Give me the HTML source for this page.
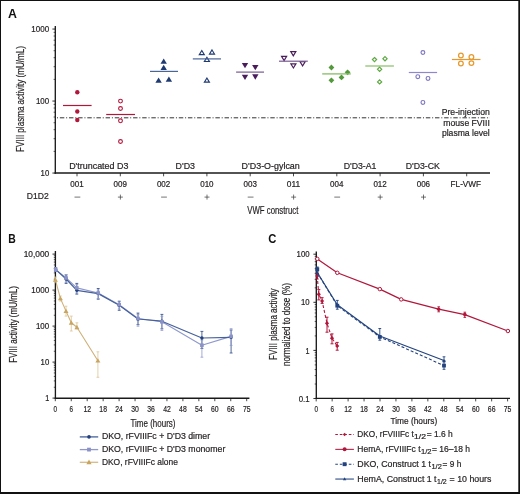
<!DOCTYPE html>
<html><head><meta charset="utf-8"><style>
html,body{margin:0;padding:0;background:#fff;}
body{width:520px;height:494px;overflow:hidden;font-family:"Liberation Sans", sans-serif;}
svg{display:block;will-change:transform;}
</style></head><body>
<svg width="520" height="494" viewBox="0 0 520 494" font-family='"Liberation Sans", sans-serif'><rect x="0.5" y="0.5" width="518.5" height="492" fill="none" stroke="#111" stroke-width="1"/>
<line x1="0" y1="493" x2="520" y2="493" stroke="#111" stroke-width="2"/>
<line x1="519.3" y1="0" x2="519.3" y2="494" stroke="#111" stroke-width="1.4"/>
<text x="7.90" y="17.80" font-size="12" textLength="8.93" lengthAdjust="spacingAndGlyphs" font-weight="bold" fill="#111">A</text>
<line x1="55.30" y1="26.00" x2="55.30" y2="173.70" stroke="#1a1a1a" stroke-width="1.35"/>
<line x1="54.60" y1="173.00" x2="490.00" y2="173.00" stroke="#1a1a1a" stroke-width="1.35"/>
<line x1="52.40" y1="29.05" x2="55.30" y2="29.05" stroke="#1a1a1a" stroke-width="0.9"/>
<text x="31.32" y="32.15" font-size="8.6" textLength="17.88" lengthAdjust="spacingAndGlyphs" fill="#231f20" stroke="#231f20" stroke-width="0.2">1000</text>
<line x1="52.40" y1="101.05" x2="55.30" y2="101.05" stroke="#1a1a1a" stroke-width="0.9"/>
<text x="35.94" y="104.15" font-size="8.6" textLength="13.25" lengthAdjust="spacingAndGlyphs" fill="#231f20" stroke="#231f20" stroke-width="0.2">100</text>
<line x1="52.40" y1="173.05" x2="55.30" y2="173.05" stroke="#1a1a1a" stroke-width="0.9"/>
<text x="40.56" y="176.15" font-size="8.6" textLength="8.66" lengthAdjust="spacingAndGlyphs" fill="#231f20" stroke="#231f20" stroke-width="0.2">10</text>
<line x1="53.60" y1="151.38" x2="55.30" y2="151.38" stroke="#1a1a1a" stroke-width="0.7"/>
<line x1="53.60" y1="138.70" x2="55.30" y2="138.70" stroke="#1a1a1a" stroke-width="0.7"/>
<line x1="53.60" y1="129.70" x2="55.30" y2="129.70" stroke="#1a1a1a" stroke-width="0.7"/>
<line x1="53.60" y1="122.72" x2="55.30" y2="122.72" stroke="#1a1a1a" stroke-width="0.7"/>
<line x1="53.60" y1="117.02" x2="55.30" y2="117.02" stroke="#1a1a1a" stroke-width="0.7"/>
<line x1="53.60" y1="112.20" x2="55.30" y2="112.20" stroke="#1a1a1a" stroke-width="0.7"/>
<line x1="53.60" y1="108.03" x2="55.30" y2="108.03" stroke="#1a1a1a" stroke-width="0.7"/>
<line x1="53.60" y1="104.34" x2="55.30" y2="104.34" stroke="#1a1a1a" stroke-width="0.7"/>
<line x1="53.60" y1="79.38" x2="55.30" y2="79.38" stroke="#1a1a1a" stroke-width="0.7"/>
<line x1="53.60" y1="66.70" x2="55.30" y2="66.70" stroke="#1a1a1a" stroke-width="0.7"/>
<line x1="53.60" y1="57.70" x2="55.30" y2="57.70" stroke="#1a1a1a" stroke-width="0.7"/>
<line x1="53.60" y1="50.72" x2="55.30" y2="50.72" stroke="#1a1a1a" stroke-width="0.7"/>
<line x1="53.60" y1="45.02" x2="55.30" y2="45.02" stroke="#1a1a1a" stroke-width="0.7"/>
<line x1="53.60" y1="40.20" x2="55.30" y2="40.20" stroke="#1a1a1a" stroke-width="0.7"/>
<line x1="53.60" y1="36.03" x2="55.30" y2="36.03" stroke="#1a1a1a" stroke-width="0.7"/>
<line x1="53.60" y1="32.34" x2="55.30" y2="32.34" stroke="#1a1a1a" stroke-width="0.7"/>
<line x1="77.00" y1="173.00" x2="77.00" y2="176.30" stroke="#1a1a1a" stroke-width="0.8"/>
<line x1="120.30" y1="173.00" x2="120.30" y2="176.30" stroke="#1a1a1a" stroke-width="0.8"/>
<line x1="163.60" y1="173.00" x2="163.60" y2="176.30" stroke="#1a1a1a" stroke-width="0.8"/>
<line x1="206.90" y1="173.00" x2="206.90" y2="176.30" stroke="#1a1a1a" stroke-width="0.8"/>
<line x1="250.20" y1="173.00" x2="250.20" y2="176.30" stroke="#1a1a1a" stroke-width="0.8"/>
<line x1="293.50" y1="173.00" x2="293.50" y2="176.30" stroke="#1a1a1a" stroke-width="0.8"/>
<line x1="336.80" y1="173.00" x2="336.80" y2="176.30" stroke="#1a1a1a" stroke-width="0.8"/>
<line x1="380.10" y1="173.00" x2="380.10" y2="176.30" stroke="#1a1a1a" stroke-width="0.8"/>
<line x1="423.40" y1="173.00" x2="423.40" y2="176.30" stroke="#1a1a1a" stroke-width="0.8"/>
<line x1="466.70" y1="173.00" x2="466.70" y2="176.30" stroke="#1a1a1a" stroke-width="0.8"/>
<text x="70.30" y="186.90" font-size="8.6" textLength="13.39" lengthAdjust="spacingAndGlyphs" fill="#231f20" stroke="#231f20" stroke-width="0.2">001</text>
<text x="113.60" y="186.90" font-size="8.6" textLength="13.39" lengthAdjust="spacingAndGlyphs" fill="#231f20" stroke="#231f20" stroke-width="0.2">009</text>
<text x="156.90" y="186.90" font-size="8.6" textLength="13.39" lengthAdjust="spacingAndGlyphs" fill="#231f20" stroke="#231f20" stroke-width="0.2">002</text>
<text x="200.20" y="186.90" font-size="8.6" textLength="13.39" lengthAdjust="spacingAndGlyphs" fill="#231f20" stroke="#231f20" stroke-width="0.2">010</text>
<text x="243.50" y="186.90" font-size="8.6" textLength="13.39" lengthAdjust="spacingAndGlyphs" fill="#231f20" stroke="#231f20" stroke-width="0.2">003</text>
<text x="286.80" y="186.90" font-size="8.6" textLength="13.39" lengthAdjust="spacingAndGlyphs" fill="#231f20" stroke="#231f20" stroke-width="0.2">011</text>
<text x="330.10" y="186.90" font-size="8.6" textLength="13.39" lengthAdjust="spacingAndGlyphs" fill="#231f20" stroke="#231f20" stroke-width="0.2">004</text>
<text x="373.40" y="186.90" font-size="8.6" textLength="13.39" lengthAdjust="spacingAndGlyphs" fill="#231f20" stroke="#231f20" stroke-width="0.2">012</text>
<text x="416.70" y="186.90" font-size="8.6" textLength="13.39" lengthAdjust="spacingAndGlyphs" fill="#231f20" stroke="#231f20" stroke-width="0.2">006</text>
<text x="450.60" y="186.90" font-size="8.6" textLength="30.41" lengthAdjust="spacingAndGlyphs" fill="#231f20" stroke="#231f20" stroke-width="0.2">FL-VWF</text>
<line x1="74.50" y1="197.10" x2="80.30" y2="197.10" stroke="#3a3a3a" stroke-width="0.7"/>
<line x1="117.90" y1="197.10" x2="122.90" y2="197.10" stroke="#3a3a3a" stroke-width="0.7"/>
<line x1="120.40" y1="194.60" x2="120.40" y2="199.60" stroke="#3a3a3a" stroke-width="0.7"/>
<line x1="161.10" y1="197.10" x2="166.90" y2="197.10" stroke="#3a3a3a" stroke-width="0.7"/>
<line x1="204.50" y1="197.10" x2="209.50" y2="197.10" stroke="#3a3a3a" stroke-width="0.7"/>
<line x1="207.00" y1="194.60" x2="207.00" y2="199.60" stroke="#3a3a3a" stroke-width="0.7"/>
<line x1="247.70" y1="197.10" x2="253.50" y2="197.10" stroke="#3a3a3a" stroke-width="0.7"/>
<line x1="291.10" y1="197.10" x2="296.10" y2="197.10" stroke="#3a3a3a" stroke-width="0.7"/>
<line x1="293.60" y1="194.60" x2="293.60" y2="199.60" stroke="#3a3a3a" stroke-width="0.7"/>
<line x1="334.30" y1="197.10" x2="340.10" y2="197.10" stroke="#3a3a3a" stroke-width="0.7"/>
<line x1="377.70" y1="197.10" x2="382.70" y2="197.10" stroke="#3a3a3a" stroke-width="0.7"/>
<line x1="380.20" y1="194.60" x2="380.20" y2="199.60" stroke="#3a3a3a" stroke-width="0.7"/>
<line x1="421.00" y1="197.10" x2="426.00" y2="197.10" stroke="#3a3a3a" stroke-width="0.7"/>
<line x1="423.50" y1="194.60" x2="423.50" y2="199.60" stroke="#3a3a3a" stroke-width="0.7"/>
<text x="26.80" y="199.40" font-size="8.6" textLength="21.91" lengthAdjust="spacingAndGlyphs" fill="#231f20" stroke="#231f20" stroke-width="0.2">D1D2</text>
<text x="247.30" y="213.80" font-size="10.6" textLength="51.01" lengthAdjust="spacingAndGlyphs" fill="#231f20" stroke="#231f20" stroke-width="0.2">VWF construct</text>
<text x="69.20" y="169.20" font-size="8.7" textLength="59.19" lengthAdjust="spacingAndGlyphs" fill="#231f20" stroke="#231f20" stroke-width="0.2">D'truncated D3</text>
<text x="175.60" y="169.20" font-size="8.7" textLength="19.41" lengthAdjust="spacingAndGlyphs" fill="#231f20" stroke="#231f20" stroke-width="0.2">D'D3</text>
<text x="241.60" y="169.20" font-size="8.7" textLength="58.21" lengthAdjust="spacingAndGlyphs" fill="#231f20" stroke="#231f20" stroke-width="0.2">D'D3-O-gylcan</text>
<text x="343.70" y="169.20" font-size="8.7" textLength="32.78" lengthAdjust="spacingAndGlyphs" fill="#231f20" stroke="#231f20" stroke-width="0.2">D'D3-A1</text>
<text x="405.70" y="169.20" font-size="8.7" textLength="34.19" lengthAdjust="spacingAndGlyphs" fill="#231f20" stroke="#231f20" stroke-width="0.2">D'D3-CK</text>
<text transform="translate(23.80,151.90) rotate(-90)" x="0" y="0" font-size="10.6" textLength="105.78" lengthAdjust="spacingAndGlyphs" fill="#231f20" stroke="#231f20" stroke-width="0.2">FVIII plasma activity (mU/mL)</text>
<line x1="57.00" y1="117.80" x2="490.00" y2="117.80" stroke="#333" stroke-width="1" stroke-dasharray="1 1.85 4.45 1.85"/>
<text x="441.70" y="115.20" font-size="8.7" textLength="48.09" lengthAdjust="spacingAndGlyphs" fill="#231f20" stroke="#231f20" stroke-width="0.2">Pre-injection</text>
<text x="443.30" y="125.70" font-size="8.7" textLength="46.51" lengthAdjust="spacingAndGlyphs" fill="#231f20" stroke="#231f20" stroke-width="0.2">mouse FVIII</text>
<text x="441.90" y="136.20" font-size="8.7" textLength="47.89" lengthAdjust="spacingAndGlyphs" fill="#231f20" stroke="#231f20" stroke-width="0.2">plasma level</text>
<circle cx="77.30" cy="92.20" r="2.2" fill="#b1173b" stroke="none" stroke-width="1"/>
<circle cx="77.30" cy="111.50" r="2.2" fill="#b1173b" stroke="none" stroke-width="1"/>
<circle cx="77.30" cy="120.00" r="2.2" fill="#b1173b" stroke="none" stroke-width="1"/>
<line x1="63.00" y1="105.50" x2="91.60" y2="105.50" stroke="#b1173b" stroke-width="1.2"/>
<circle cx="120.50" cy="101.10" r="1.9" fill="#fff" stroke="#b1173b" stroke-width="1.1"/>
<circle cx="120.50" cy="108.50" r="1.9" fill="#fff" stroke="#b1173b" stroke-width="1.1"/>
<circle cx="120.50" cy="120.80" r="1.9" fill="#fff" stroke="#b1173b" stroke-width="1.1"/>
<circle cx="120.50" cy="141.50" r="1.9" fill="#fff" stroke="#b1173b" stroke-width="1.1"/>
<line x1="106.20" y1="114.50" x2="135.00" y2="114.50" stroke="#b1173b" stroke-width="1.2"/>
<polygon points="163.70,58.60 166.90,63.80 160.50,63.80" fill="#1f3a72" stroke="none" stroke-width="1" stroke-linejoin="miter"/>
<polygon points="163.70,64.80 166.90,70.00 160.50,70.00" fill="#1f3a72" stroke="none" stroke-width="1" stroke-linejoin="miter"/>
<polygon points="158.60,77.50 161.80,82.70 155.40,82.70" fill="#1f3a72" stroke="none" stroke-width="1" stroke-linejoin="miter"/>
<polygon points="168.90,76.50 172.10,81.70 165.70,81.70" fill="#1f3a72" stroke="none" stroke-width="1" stroke-linejoin="miter"/>
<line x1="150.00" y1="71.40" x2="178.00" y2="71.40" stroke="#4a6598" stroke-width="1.2"/>
<polygon points="201.80,50.55 204.30,54.65 199.30,54.65" fill="#fff" stroke="#1f3a72" stroke-width="1.15" stroke-linejoin="miter"/>
<polygon points="212.00,49.95 214.50,54.05 209.50,54.05" fill="#fff" stroke="#1f3a72" stroke-width="1.15" stroke-linejoin="miter"/>
<polygon points="206.90,57.35 209.40,61.45 204.40,61.45" fill="#fff" stroke="#1f3a72" stroke-width="1.15" stroke-linejoin="miter"/>
<polygon points="206.90,78.05 209.40,82.15 204.40,82.15" fill="#fff" stroke="#1f3a72" stroke-width="1.15" stroke-linejoin="miter"/>
<line x1="192.80" y1="58.90" x2="221.00" y2="58.90" stroke="#4a6598" stroke-width="1.2"/>
<polygon points="241.80,63.05 248.20,63.05 245.00,68.35" fill="#4a1c5c" stroke="none" stroke-width="1" stroke-linejoin="miter"/>
<polygon points="252.10,65.05 258.50,65.05 255.30,70.35" fill="#4a1c5c" stroke="none" stroke-width="1" stroke-linejoin="miter"/>
<polygon points="241.80,74.75 248.20,74.75 245.00,80.05" fill="#4a1c5c" stroke="none" stroke-width="1" stroke-linejoin="miter"/>
<polygon points="252.10,74.35 258.50,74.35 255.30,79.65" fill="#4a1c5c" stroke="none" stroke-width="1" stroke-linejoin="miter"/>
<line x1="236.10" y1="72.10" x2="264.00" y2="72.10" stroke="#765890" stroke-width="1.2"/>
<polygon points="281.55,56.40 286.65,56.40 284.10,60.60" fill="#fff" stroke="#4a1c5c" stroke-width="1.15" stroke-linejoin="miter"/>
<polygon points="290.75,51.60 295.85,51.60 293.30,55.80" fill="#fff" stroke="#4a1c5c" stroke-width="1.15" stroke-linejoin="miter"/>
<polygon points="290.85,63.80 295.95,63.80 293.40,68.00" fill="#fff" stroke="#4a1c5c" stroke-width="1.15" stroke-linejoin="miter"/>
<polygon points="300.05,61.70 305.15,61.70 302.60,65.90" fill="#fff" stroke="#4a1c5c" stroke-width="1.15" stroke-linejoin="miter"/>
<line x1="279.00" y1="61.20" x2="307.80" y2="61.20" stroke="#765890" stroke-width="1.2"/>
<polygon points="331.40,64.60 334.30,67.50 331.40,70.40 328.50,67.50" fill="#52993a" stroke="none" stroke-width="1"/>
<polygon points="347.60,69.40 350.50,72.30 347.60,75.20 344.70,72.30" fill="#52993a" stroke="none" stroke-width="1"/>
<polygon points="341.50,74.50 344.40,77.40 341.50,80.30 338.60,77.40" fill="#52993a" stroke="none" stroke-width="1"/>
<polygon points="331.40,77.40 334.30,80.30 331.40,83.20 328.50,80.30" fill="#52993a" stroke="none" stroke-width="1"/>
<line x1="322.20" y1="73.90" x2="350.80" y2="73.90" stroke="#86bd66" stroke-width="1.3"/>
<polygon points="374.50,57.50 376.60,59.60 374.50,61.70 372.40,59.60" fill="#fff" stroke="#5ea843" stroke-width="1.2"/>
<polygon points="385.00,56.60 387.10,58.70 385.00,60.80 382.90,58.70" fill="#fff" stroke="#5ea843" stroke-width="1.2"/>
<polygon points="379.60,67.20 381.70,69.30 379.60,71.40 377.50,69.30" fill="#fff" stroke="#5ea843" stroke-width="1.2"/>
<polygon points="379.60,79.80 381.70,81.90 379.60,84.00 377.50,81.90" fill="#fff" stroke="#5ea843" stroke-width="1.2"/>
<line x1="365.30" y1="66.00" x2="393.90" y2="66.00" stroke="#86bd66" stroke-width="1.2"/>
<circle cx="422.90" cy="52.50" r="1.9" fill="#fff" stroke="#7d76c2" stroke-width="1.15"/>
<circle cx="417.80" cy="76.70" r="1.9" fill="#fff" stroke="#7d76c2" stroke-width="1.15"/>
<circle cx="428.00" cy="78.40" r="1.9" fill="#fff" stroke="#7d76c2" stroke-width="1.15"/>
<circle cx="422.90" cy="102.40" r="1.9" fill="#fff" stroke="#7d76c2" stroke-width="1.15"/>
<line x1="408.80" y1="72.50" x2="437.10" y2="72.50" stroke="#8e87cb" stroke-width="1.2"/>
<circle cx="460.90" cy="55.40" r="2.35" fill="#fff" stroke="#e69a2e" stroke-width="1.25"/>
<circle cx="471.40" cy="56.90" r="2.35" fill="#fff" stroke="#e69a2e" stroke-width="1.25"/>
<circle cx="460.90" cy="63.50" r="2.35" fill="#fff" stroke="#e69a2e" stroke-width="1.25"/>
<circle cx="471.40" cy="63.10" r="2.35" fill="#fff" stroke="#e69a2e" stroke-width="1.25"/>
<line x1="451.90" y1="59.50" x2="480.50" y2="59.50" stroke="#e69a2e" stroke-width="1.2"/>
<text x="8.30" y="243.40" font-size="12" textLength="7.52" lengthAdjust="spacingAndGlyphs" font-weight="bold" fill="#111">B</text>
<line x1="55.40" y1="251.00" x2="55.40" y2="398.90" stroke="#1a1a1a" stroke-width="1.35"/>
<line x1="54.70" y1="398.20" x2="249.40" y2="398.20" stroke="#1a1a1a" stroke-width="1.35"/>
<line x1="52.50" y1="254.10" x2="55.40" y2="254.10" stroke="#1a1a1a" stroke-width="0.9"/>
<text x="23.70" y="257.20" font-size="8.6" textLength="25.49" lengthAdjust="spacingAndGlyphs" fill="#231f20" stroke="#231f20" stroke-width="0.2">10,000</text>
<line x1="52.50" y1="290.10" x2="55.40" y2="290.10" stroke="#1a1a1a" stroke-width="0.9"/>
<text x="31.32" y="293.20" font-size="8.6" textLength="17.88" lengthAdjust="spacingAndGlyphs" fill="#231f20" stroke="#231f20" stroke-width="0.2">1000</text>
<line x1="52.50" y1="326.10" x2="55.40" y2="326.10" stroke="#1a1a1a" stroke-width="0.9"/>
<text x="35.94" y="329.20" font-size="8.6" textLength="13.25" lengthAdjust="spacingAndGlyphs" fill="#231f20" stroke="#231f20" stroke-width="0.2">100</text>
<line x1="52.50" y1="362.10" x2="55.40" y2="362.10" stroke="#1a1a1a" stroke-width="0.9"/>
<text x="40.56" y="365.20" font-size="8.6" textLength="8.66" lengthAdjust="spacingAndGlyphs" fill="#231f20" stroke="#231f20" stroke-width="0.2">10</text>
<line x1="52.50" y1="398.10" x2="55.40" y2="398.10" stroke="#1a1a1a" stroke-width="0.9"/>
<text x="45.18" y="401.20" font-size="8.6" textLength="4.03" lengthAdjust="spacingAndGlyphs" fill="#231f20" stroke="#231f20" stroke-width="0.2">1</text>
<line x1="53.80" y1="387.26" x2="55.40" y2="387.26" stroke="#1a1a1a" stroke-width="0.7"/>
<line x1="53.80" y1="380.92" x2="55.40" y2="380.92" stroke="#1a1a1a" stroke-width="0.7"/>
<line x1="53.80" y1="376.43" x2="55.40" y2="376.43" stroke="#1a1a1a" stroke-width="0.7"/>
<line x1="53.80" y1="372.94" x2="55.40" y2="372.94" stroke="#1a1a1a" stroke-width="0.7"/>
<line x1="53.80" y1="370.09" x2="55.40" y2="370.09" stroke="#1a1a1a" stroke-width="0.7"/>
<line x1="53.80" y1="367.68" x2="55.40" y2="367.68" stroke="#1a1a1a" stroke-width="0.7"/>
<line x1="53.80" y1="365.59" x2="55.40" y2="365.59" stroke="#1a1a1a" stroke-width="0.7"/>
<line x1="53.80" y1="363.75" x2="55.40" y2="363.75" stroke="#1a1a1a" stroke-width="0.7"/>
<line x1="53.80" y1="351.26" x2="55.40" y2="351.26" stroke="#1a1a1a" stroke-width="0.7"/>
<line x1="53.80" y1="344.92" x2="55.40" y2="344.92" stroke="#1a1a1a" stroke-width="0.7"/>
<line x1="53.80" y1="340.43" x2="55.40" y2="340.43" stroke="#1a1a1a" stroke-width="0.7"/>
<line x1="53.80" y1="336.94" x2="55.40" y2="336.94" stroke="#1a1a1a" stroke-width="0.7"/>
<line x1="53.80" y1="334.09" x2="55.40" y2="334.09" stroke="#1a1a1a" stroke-width="0.7"/>
<line x1="53.80" y1="331.68" x2="55.40" y2="331.68" stroke="#1a1a1a" stroke-width="0.7"/>
<line x1="53.80" y1="329.59" x2="55.40" y2="329.59" stroke="#1a1a1a" stroke-width="0.7"/>
<line x1="53.80" y1="327.75" x2="55.40" y2="327.75" stroke="#1a1a1a" stroke-width="0.7"/>
<line x1="53.80" y1="315.26" x2="55.40" y2="315.26" stroke="#1a1a1a" stroke-width="0.7"/>
<line x1="53.80" y1="308.92" x2="55.40" y2="308.92" stroke="#1a1a1a" stroke-width="0.7"/>
<line x1="53.80" y1="304.43" x2="55.40" y2="304.43" stroke="#1a1a1a" stroke-width="0.7"/>
<line x1="53.80" y1="300.94" x2="55.40" y2="300.94" stroke="#1a1a1a" stroke-width="0.7"/>
<line x1="53.80" y1="298.09" x2="55.40" y2="298.09" stroke="#1a1a1a" stroke-width="0.7"/>
<line x1="53.80" y1="295.68" x2="55.40" y2="295.68" stroke="#1a1a1a" stroke-width="0.7"/>
<line x1="53.80" y1="293.59" x2="55.40" y2="293.59" stroke="#1a1a1a" stroke-width="0.7"/>
<line x1="53.80" y1="291.75" x2="55.40" y2="291.75" stroke="#1a1a1a" stroke-width="0.7"/>
<line x1="53.80" y1="279.26" x2="55.40" y2="279.26" stroke="#1a1a1a" stroke-width="0.7"/>
<line x1="53.80" y1="272.92" x2="55.40" y2="272.92" stroke="#1a1a1a" stroke-width="0.7"/>
<line x1="53.80" y1="268.43" x2="55.40" y2="268.43" stroke="#1a1a1a" stroke-width="0.7"/>
<line x1="53.80" y1="264.94" x2="55.40" y2="264.94" stroke="#1a1a1a" stroke-width="0.7"/>
<line x1="53.80" y1="262.09" x2="55.40" y2="262.09" stroke="#1a1a1a" stroke-width="0.7"/>
<line x1="53.80" y1="259.68" x2="55.40" y2="259.68" stroke="#1a1a1a" stroke-width="0.7"/>
<line x1="53.80" y1="257.59" x2="55.40" y2="257.59" stroke="#1a1a1a" stroke-width="0.7"/>
<line x1="53.80" y1="255.75" x2="55.40" y2="255.75" stroke="#1a1a1a" stroke-width="0.7"/>
<line x1="55.30" y1="398.20" x2="55.30" y2="401.20" stroke="#1a1a1a" stroke-width="0.8"/>
<text x="53.55" y="412.20" font-size="8.6" textLength="3.51" lengthAdjust="spacingAndGlyphs" fill="#231f20" stroke="#231f20" stroke-width="0.2">0</text>
<line x1="71.25" y1="398.20" x2="71.25" y2="401.20" stroke="#1a1a1a" stroke-width="0.8"/>
<text x="69.50" y="412.20" font-size="8.6" textLength="3.51" lengthAdjust="spacingAndGlyphs" fill="#231f20" stroke="#231f20" stroke-width="0.2">6</text>
<line x1="87.20" y1="398.20" x2="87.20" y2="401.20" stroke="#1a1a1a" stroke-width="0.8"/>
<text x="83.40" y="412.20" font-size="8.6" textLength="7.62" lengthAdjust="spacingAndGlyphs" fill="#231f20" stroke="#231f20" stroke-width="0.2">12</text>
<line x1="103.15" y1="398.20" x2="103.15" y2="401.20" stroke="#1a1a1a" stroke-width="0.8"/>
<text x="99.35" y="412.20" font-size="8.6" textLength="7.62" lengthAdjust="spacingAndGlyphs" fill="#231f20" stroke="#231f20" stroke-width="0.2">18</text>
<line x1="119.10" y1="398.20" x2="119.10" y2="401.20" stroke="#1a1a1a" stroke-width="0.8"/>
<text x="115.30" y="412.20" font-size="8.6" textLength="7.62" lengthAdjust="spacingAndGlyphs" fill="#231f20" stroke="#231f20" stroke-width="0.2">24</text>
<line x1="135.05" y1="398.20" x2="135.05" y2="401.20" stroke="#1a1a1a" stroke-width="0.8"/>
<text x="131.25" y="412.20" font-size="8.6" textLength="7.62" lengthAdjust="spacingAndGlyphs" fill="#231f20" stroke="#231f20" stroke-width="0.2">30</text>
<line x1="151.00" y1="398.20" x2="151.00" y2="401.20" stroke="#1a1a1a" stroke-width="0.8"/>
<text x="147.20" y="412.20" font-size="8.6" textLength="7.62" lengthAdjust="spacingAndGlyphs" fill="#231f20" stroke="#231f20" stroke-width="0.2">36</text>
<line x1="166.95" y1="398.20" x2="166.95" y2="401.20" stroke="#1a1a1a" stroke-width="0.8"/>
<text x="163.15" y="412.20" font-size="8.6" textLength="7.62" lengthAdjust="spacingAndGlyphs" fill="#231f20" stroke="#231f20" stroke-width="0.2">42</text>
<line x1="182.90" y1="398.20" x2="182.90" y2="401.20" stroke="#1a1a1a" stroke-width="0.8"/>
<text x="179.10" y="412.20" font-size="8.6" textLength="7.62" lengthAdjust="spacingAndGlyphs" fill="#231f20" stroke="#231f20" stroke-width="0.2">48</text>
<line x1="198.85" y1="398.20" x2="198.85" y2="401.20" stroke="#1a1a1a" stroke-width="0.8"/>
<text x="195.05" y="412.20" font-size="8.6" textLength="7.62" lengthAdjust="spacingAndGlyphs" fill="#231f20" stroke="#231f20" stroke-width="0.2">54</text>
<line x1="214.80" y1="398.20" x2="214.80" y2="401.20" stroke="#1a1a1a" stroke-width="0.8"/>
<text x="211.00" y="412.20" font-size="8.6" textLength="7.62" lengthAdjust="spacingAndGlyphs" fill="#231f20" stroke="#231f20" stroke-width="0.2">60</text>
<line x1="230.75" y1="398.20" x2="230.75" y2="401.20" stroke="#1a1a1a" stroke-width="0.8"/>
<text x="226.95" y="412.20" font-size="8.6" textLength="7.62" lengthAdjust="spacingAndGlyphs" fill="#231f20" stroke="#231f20" stroke-width="0.2">66</text>
<line x1="246.70" y1="398.20" x2="246.70" y2="401.20" stroke="#1a1a1a" stroke-width="0.8"/>
<text x="242.90" y="412.20" font-size="8.6" textLength="7.62" lengthAdjust="spacingAndGlyphs" fill="#231f20" stroke="#231f20" stroke-width="0.2">75</text>
<text x="130.50" y="426.80" font-size="10.4" textLength="45.00" lengthAdjust="spacingAndGlyphs" fill="#231f20" stroke="#231f20" stroke-width="0.2">Time (hours)</text>
<text transform="translate(16.60,362.80) rotate(-90)" x="0" y="0" font-size="10.6" textLength="76.71" lengthAdjust="spacingAndGlyphs" fill="#231f20" stroke="#231f20" stroke-width="0.2">FVIII activity (mU/mL)</text>
<line x1="55.70" y1="267.50" x2="55.70" y2="271.50" stroke="#34508c" stroke-width="0.85"/>
<line x1="54.25" y1="267.50" x2="57.15" y2="267.50" stroke="#34508c" stroke-width="0.85"/>
<line x1="54.25" y1="271.50" x2="57.15" y2="271.50" stroke="#34508c" stroke-width="0.85"/>
<line x1="66.10" y1="275.00" x2="66.10" y2="283.40" stroke="#34508c" stroke-width="0.85"/>
<line x1="64.65" y1="275.00" x2="67.55" y2="275.00" stroke="#34508c" stroke-width="0.85"/>
<line x1="64.65" y1="283.40" x2="67.55" y2="283.40" stroke="#34508c" stroke-width="0.85"/>
<line x1="76.80" y1="283.40" x2="76.80" y2="294.10" stroke="#34508c" stroke-width="0.85"/>
<line x1="75.35" y1="283.40" x2="78.25" y2="283.40" stroke="#34508c" stroke-width="0.85"/>
<line x1="75.35" y1="294.10" x2="78.25" y2="294.10" stroke="#34508c" stroke-width="0.85"/>
<line x1="98.20" y1="288.50" x2="98.20" y2="299.20" stroke="#34508c" stroke-width="0.85"/>
<line x1="96.75" y1="288.50" x2="99.65" y2="288.50" stroke="#34508c" stroke-width="0.85"/>
<line x1="96.75" y1="299.20" x2="99.65" y2="299.20" stroke="#34508c" stroke-width="0.85"/>
<line x1="119.20" y1="301.20" x2="119.20" y2="310.30" stroke="#34508c" stroke-width="0.85"/>
<line x1="117.75" y1="301.20" x2="120.65" y2="301.20" stroke="#34508c" stroke-width="0.85"/>
<line x1="117.75" y1="310.30" x2="120.65" y2="310.30" stroke="#34508c" stroke-width="0.85"/>
<line x1="138.00" y1="313.10" x2="138.00" y2="324.60" stroke="#34508c" stroke-width="0.85"/>
<line x1="136.55" y1="313.10" x2="139.45" y2="313.10" stroke="#34508c" stroke-width="0.85"/>
<line x1="136.55" y1="324.60" x2="139.45" y2="324.60" stroke="#34508c" stroke-width="0.85"/>
<line x1="161.90" y1="314.40" x2="161.90" y2="328.80" stroke="#34508c" stroke-width="0.85"/>
<line x1="160.45" y1="314.40" x2="163.35" y2="314.40" stroke="#34508c" stroke-width="0.85"/>
<line x1="160.45" y1="328.80" x2="163.35" y2="328.80" stroke="#34508c" stroke-width="0.85"/>
<line x1="201.90" y1="331.40" x2="201.90" y2="348.40" stroke="#34508c" stroke-width="0.85"/>
<line x1="200.45" y1="331.40" x2="203.35" y2="331.40" stroke="#34508c" stroke-width="0.85"/>
<line x1="200.45" y1="348.40" x2="203.35" y2="348.40" stroke="#34508c" stroke-width="0.85"/>
<line x1="231.10" y1="330.00" x2="231.10" y2="353.00" stroke="#34508c" stroke-width="0.85"/>
<line x1="229.65" y1="330.00" x2="232.55" y2="330.00" stroke="#34508c" stroke-width="0.85"/>
<line x1="229.65" y1="353.00" x2="232.55" y2="353.00" stroke="#34508c" stroke-width="0.85"/>
<line x1="55.70" y1="267.50" x2="55.70" y2="271.50" stroke="#8f98cc" stroke-width="0.8"/>
<line x1="54.30" y1="267.50" x2="57.10" y2="267.50" stroke="#8f98cc" stroke-width="0.8"/>
<line x1="54.30" y1="271.50" x2="57.10" y2="271.50" stroke="#8f98cc" stroke-width="0.8"/>
<line x1="66.10" y1="274.60" x2="66.10" y2="282.40" stroke="#8f98cc" stroke-width="0.8"/>
<line x1="64.70" y1="274.60" x2="67.50" y2="274.60" stroke="#8f98cc" stroke-width="0.8"/>
<line x1="64.70" y1="282.40" x2="67.50" y2="282.40" stroke="#8f98cc" stroke-width="0.8"/>
<line x1="76.80" y1="284.50" x2="76.80" y2="293.00" stroke="#8f98cc" stroke-width="0.8"/>
<line x1="75.40" y1="284.50" x2="78.20" y2="284.50" stroke="#8f98cc" stroke-width="0.8"/>
<line x1="75.40" y1="293.00" x2="78.20" y2="293.00" stroke="#8f98cc" stroke-width="0.8"/>
<line x1="98.20" y1="290.00" x2="98.20" y2="298.50" stroke="#8f98cc" stroke-width="0.8"/>
<line x1="96.80" y1="290.00" x2="99.60" y2="290.00" stroke="#8f98cc" stroke-width="0.8"/>
<line x1="96.80" y1="298.50" x2="99.60" y2="298.50" stroke="#8f98cc" stroke-width="0.8"/>
<line x1="119.20" y1="302.00" x2="119.20" y2="309.00" stroke="#8f98cc" stroke-width="0.8"/>
<line x1="117.80" y1="302.00" x2="120.60" y2="302.00" stroke="#8f98cc" stroke-width="0.8"/>
<line x1="117.80" y1="309.00" x2="120.60" y2="309.00" stroke="#8f98cc" stroke-width="0.8"/>
<line x1="138.00" y1="314.60" x2="138.00" y2="326.20" stroke="#8f98cc" stroke-width="0.8"/>
<line x1="136.60" y1="314.60" x2="139.40" y2="314.60" stroke="#8f98cc" stroke-width="0.8"/>
<line x1="136.60" y1="326.20" x2="139.40" y2="326.20" stroke="#8f98cc" stroke-width="0.8"/>
<line x1="161.90" y1="316.30" x2="161.90" y2="330.40" stroke="#8f98cc" stroke-width="0.8"/>
<line x1="160.50" y1="316.30" x2="163.30" y2="316.30" stroke="#8f98cc" stroke-width="0.8"/>
<line x1="160.50" y1="330.40" x2="163.30" y2="330.40" stroke="#8f98cc" stroke-width="0.8"/>
<line x1="201.90" y1="340.00" x2="201.90" y2="357.20" stroke="#8f98cc" stroke-width="0.8"/>
<line x1="200.50" y1="340.00" x2="203.30" y2="340.00" stroke="#8f98cc" stroke-width="0.8"/>
<line x1="200.50" y1="357.20" x2="203.30" y2="357.20" stroke="#8f98cc" stroke-width="0.8"/>
<line x1="231.10" y1="328.70" x2="231.10" y2="345.40" stroke="#8f98cc" stroke-width="0.8"/>
<line x1="229.70" y1="328.70" x2="232.50" y2="328.70" stroke="#8f98cc" stroke-width="0.8"/>
<line x1="229.70" y1="345.40" x2="232.50" y2="345.40" stroke="#8f98cc" stroke-width="0.8"/>
<polyline points="55.70,269.60 66.10,278.00 76.80,287.90 98.20,293.00 119.20,304.80 138.00,318.50 161.90,321.80 201.90,345.20 231.10,336.40" fill="none" stroke="#8f98cc" stroke-width="1.1" stroke-linejoin="round"/>
<polyline points="55.70,269.60 66.10,279.00 76.80,290.30 98.20,293.60 119.20,305.20 138.00,319.00 161.90,321.20 201.90,338.00 231.10,337.30" fill="none" stroke="#45609c" stroke-width="1.2" stroke-linejoin="round"/>
<circle cx="55.70" cy="269.60" r="1.7" fill="#23417c" stroke="none" stroke-width="1"/>
<circle cx="66.10" cy="279.00" r="1.7" fill="#23417c" stroke="none" stroke-width="1"/>
<circle cx="76.80" cy="290.30" r="1.7" fill="#23417c" stroke="none" stroke-width="1"/>
<circle cx="98.20" cy="293.60" r="1.7" fill="#23417c" stroke="none" stroke-width="1"/>
<circle cx="119.20" cy="305.20" r="1.7" fill="#23417c" stroke="none" stroke-width="1"/>
<circle cx="138.00" cy="319.00" r="1.7" fill="#23417c" stroke="none" stroke-width="1"/>
<circle cx="161.90" cy="321.20" r="1.7" fill="#23417c" stroke="none" stroke-width="1"/>
<circle cx="201.90" cy="338.00" r="1.7" fill="#23417c" stroke="none" stroke-width="1"/>
<circle cx="231.10" cy="337.30" r="1.7" fill="#23417c" stroke="none" stroke-width="1"/>
<rect x="53.90" y="267.80" width="3.6" height="3.6" fill="#8a92c6"/>
<rect x="64.30" y="276.20" width="3.6" height="3.6" fill="#8a92c6"/>
<rect x="75.00" y="286.10" width="3.6" height="3.6" fill="#8a92c6"/>
<rect x="96.40" y="291.20" width="3.6" height="3.6" fill="#8a92c6"/>
<rect x="117.40" y="303.00" width="3.6" height="3.6" fill="#8a92c6"/>
<rect x="136.20" y="316.70" width="3.6" height="3.6" fill="#8a92c6"/>
<rect x="160.10" y="320.00" width="3.6" height="3.6" fill="#8a92c6"/>
<rect x="200.10" y="343.40" width="3.6" height="3.6" fill="#8a92c6"/>
<rect x="229.30" y="334.60" width="3.6" height="3.6" fill="#8a92c6"/>
<line x1="55.40" y1="277.00" x2="55.40" y2="282.00" stroke="#dcc596" stroke-width="0.8"/>
<line x1="54.00" y1="277.00" x2="56.80" y2="277.00" stroke="#dcc596" stroke-width="0.8"/>
<line x1="54.00" y1="282.00" x2="56.80" y2="282.00" stroke="#dcc596" stroke-width="0.8"/>
<line x1="60.40" y1="296.00" x2="60.40" y2="301.00" stroke="#dcc596" stroke-width="0.8"/>
<line x1="59.00" y1="296.00" x2="61.80" y2="296.00" stroke="#dcc596" stroke-width="0.8"/>
<line x1="59.00" y1="301.00" x2="61.80" y2="301.00" stroke="#dcc596" stroke-width="0.8"/>
<line x1="66.00" y1="306.20" x2="66.00" y2="316.10" stroke="#dcc596" stroke-width="0.8"/>
<line x1="64.60" y1="306.20" x2="67.40" y2="306.20" stroke="#dcc596" stroke-width="0.8"/>
<line x1="64.60" y1="316.10" x2="67.40" y2="316.10" stroke="#dcc596" stroke-width="0.8"/>
<line x1="71.30" y1="316.10" x2="71.30" y2="331.00" stroke="#dcc596" stroke-width="0.8"/>
<line x1="69.90" y1="316.10" x2="72.70" y2="316.10" stroke="#dcc596" stroke-width="0.8"/>
<line x1="69.90" y1="331.00" x2="72.70" y2="331.00" stroke="#dcc596" stroke-width="0.8"/>
<line x1="76.90" y1="322.80" x2="76.90" y2="328.90" stroke="#dcc596" stroke-width="0.8"/>
<line x1="75.50" y1="322.80" x2="78.30" y2="322.80" stroke="#dcc596" stroke-width="0.8"/>
<line x1="75.50" y1="328.90" x2="78.30" y2="328.90" stroke="#dcc596" stroke-width="0.8"/>
<line x1="97.90" y1="351.80" x2="97.90" y2="377.30" stroke="#dcc596" stroke-width="0.8"/>
<line x1="96.50" y1="351.80" x2="99.30" y2="351.80" stroke="#dcc596" stroke-width="0.8"/>
<line x1="96.50" y1="377.30" x2="99.30" y2="377.30" stroke="#dcc596" stroke-width="0.8"/>
<polyline points="55.40,279.90 60.40,298.40 66.00,311.10 71.30,322.80 76.90,327.30 97.90,360.70" fill="none" stroke="#cfb079" stroke-width="1.1" stroke-linejoin="round"/>
<polygon points="55.40,277.40 57.90,281.80 52.90,281.80" fill="#c8a662" stroke="none" stroke-width="1" stroke-linejoin="miter"/>
<polygon points="60.40,295.90 62.90,300.30 57.90,300.30" fill="#c8a662" stroke="none" stroke-width="1" stroke-linejoin="miter"/>
<polygon points="66.00,308.60 68.50,313.00 63.50,313.00" fill="#c8a662" stroke="none" stroke-width="1" stroke-linejoin="miter"/>
<polygon points="71.30,320.30 73.80,324.70 68.80,324.70" fill="#c8a662" stroke="none" stroke-width="1" stroke-linejoin="miter"/>
<polygon points="76.90,324.80 79.40,329.20 74.40,329.20" fill="#c8a662" stroke="none" stroke-width="1" stroke-linejoin="miter"/>
<polygon points="97.90,358.20 100.40,362.60 95.40,362.60" fill="#c8a662" stroke="none" stroke-width="1" stroke-linejoin="miter"/>
<line x1="79.80" y1="436.90" x2="98.20" y2="436.90" stroke="#45609c" stroke-width="1.3"/>
<circle cx="89.00" cy="436.90" r="1.8" fill="#23417c" stroke="none" stroke-width="1"/>
<text x="101.90" y="439.20" font-size="8.7" textLength="108.22" lengthAdjust="spacingAndGlyphs" fill="#231f20" stroke="#231f20" stroke-width="0.2">DKO, rFVIIIFc + D'D3 dimer</text>
<line x1="79.80" y1="449.60" x2="98.20" y2="449.60" stroke="#8f98cc" stroke-width="1.3"/>
<rect x="87.10" y="447.70" width="3.8" height="3.8" fill="#8a92c6"/>
<text x="101.90" y="451.90" font-size="8.7" textLength="123.41" lengthAdjust="spacingAndGlyphs" fill="#231f20" stroke="#231f20" stroke-width="0.2">DKO, rFVIIIFc + D'D3 monomer</text>
<line x1="79.80" y1="462.30" x2="98.20" y2="462.30" stroke="#d6bb84" stroke-width="1.3"/>
<polygon points="89.00,459.60 91.60,464.20 86.40,464.20" fill="#c8a662" stroke="none" stroke-width="1" stroke-linejoin="miter"/>
<text x="101.90" y="464.60" font-size="8.7" textLength="75.98" lengthAdjust="spacingAndGlyphs" fill="#231f20" stroke="#231f20" stroke-width="0.2">DKO, rFVIIIFc alone</text>
<text x="268.30" y="243.20" font-size="12" textLength="8.12" lengthAdjust="spacingAndGlyphs" font-weight="bold" fill="#111">C</text>
<line x1="316.30" y1="251.60" x2="316.30" y2="399.10" stroke="#1a1a1a" stroke-width="1.35"/>
<line x1="315.60" y1="398.40" x2="510.00" y2="398.40" stroke="#1a1a1a" stroke-width="1.35"/>
<line x1="313.40" y1="254.20" x2="316.30" y2="254.20" stroke="#1a1a1a" stroke-width="0.9"/>
<text x="296.60" y="257.30" font-size="8.6" textLength="12.99" lengthAdjust="spacingAndGlyphs" fill="#231f20" stroke="#231f20" stroke-width="0.2">100</text>
<line x1="313.40" y1="302.30" x2="316.30" y2="302.30" stroke="#1a1a1a" stroke-width="0.9"/>
<text x="301.00" y="305.40" font-size="8.6" textLength="8.62" lengthAdjust="spacingAndGlyphs" fill="#231f20" stroke="#231f20" stroke-width="0.2">10</text>
<line x1="313.40" y1="350.40" x2="316.30" y2="350.40" stroke="#1a1a1a" stroke-width="0.9"/>
<text x="305.60" y="353.50" font-size="8.6" textLength="4.01" lengthAdjust="spacingAndGlyphs" fill="#231f20" stroke="#231f20" stroke-width="0.2">1</text>
<line x1="313.40" y1="398.50" x2="316.30" y2="398.50" stroke="#1a1a1a" stroke-width="0.9"/>
<text x="298.70" y="401.60" font-size="8.6" textLength="10.90" lengthAdjust="spacingAndGlyphs" fill="#231f20" stroke="#231f20" stroke-width="0.2">0.1</text>
<line x1="314.70" y1="384.02" x2="316.30" y2="384.02" stroke="#1a1a1a" stroke-width="0.7"/>
<line x1="314.70" y1="375.55" x2="316.30" y2="375.55" stroke="#1a1a1a" stroke-width="0.7"/>
<line x1="314.70" y1="369.54" x2="316.30" y2="369.54" stroke="#1a1a1a" stroke-width="0.7"/>
<line x1="314.70" y1="364.88" x2="316.30" y2="364.88" stroke="#1a1a1a" stroke-width="0.7"/>
<line x1="314.70" y1="361.07" x2="316.30" y2="361.07" stroke="#1a1a1a" stroke-width="0.7"/>
<line x1="314.70" y1="357.85" x2="316.30" y2="357.85" stroke="#1a1a1a" stroke-width="0.7"/>
<line x1="314.70" y1="355.06" x2="316.30" y2="355.06" stroke="#1a1a1a" stroke-width="0.7"/>
<line x1="314.70" y1="352.60" x2="316.30" y2="352.60" stroke="#1a1a1a" stroke-width="0.7"/>
<line x1="314.70" y1="335.92" x2="316.30" y2="335.92" stroke="#1a1a1a" stroke-width="0.7"/>
<line x1="314.70" y1="327.45" x2="316.30" y2="327.45" stroke="#1a1a1a" stroke-width="0.7"/>
<line x1="314.70" y1="321.44" x2="316.30" y2="321.44" stroke="#1a1a1a" stroke-width="0.7"/>
<line x1="314.70" y1="316.78" x2="316.30" y2="316.78" stroke="#1a1a1a" stroke-width="0.7"/>
<line x1="314.70" y1="312.97" x2="316.30" y2="312.97" stroke="#1a1a1a" stroke-width="0.7"/>
<line x1="314.70" y1="309.75" x2="316.30" y2="309.75" stroke="#1a1a1a" stroke-width="0.7"/>
<line x1="314.70" y1="306.96" x2="316.30" y2="306.96" stroke="#1a1a1a" stroke-width="0.7"/>
<line x1="314.70" y1="304.50" x2="316.30" y2="304.50" stroke="#1a1a1a" stroke-width="0.7"/>
<line x1="314.70" y1="287.82" x2="316.30" y2="287.82" stroke="#1a1a1a" stroke-width="0.7"/>
<line x1="314.70" y1="279.35" x2="316.30" y2="279.35" stroke="#1a1a1a" stroke-width="0.7"/>
<line x1="314.70" y1="273.34" x2="316.30" y2="273.34" stroke="#1a1a1a" stroke-width="0.7"/>
<line x1="314.70" y1="268.68" x2="316.30" y2="268.68" stroke="#1a1a1a" stroke-width="0.7"/>
<line x1="314.70" y1="264.87" x2="316.30" y2="264.87" stroke="#1a1a1a" stroke-width="0.7"/>
<line x1="314.70" y1="261.65" x2="316.30" y2="261.65" stroke="#1a1a1a" stroke-width="0.7"/>
<line x1="314.70" y1="258.86" x2="316.30" y2="258.86" stroke="#1a1a1a" stroke-width="0.7"/>
<line x1="314.70" y1="256.40" x2="316.30" y2="256.40" stroke="#1a1a1a" stroke-width="0.7"/>
<line x1="316.20" y1="398.40" x2="316.20" y2="401.40" stroke="#1a1a1a" stroke-width="0.8"/>
<text x="314.45" y="411.60" font-size="8.6" textLength="3.51" lengthAdjust="spacingAndGlyphs" fill="#231f20" stroke="#231f20" stroke-width="0.2">0</text>
<line x1="332.15" y1="398.40" x2="332.15" y2="401.40" stroke="#1a1a1a" stroke-width="0.8"/>
<text x="330.40" y="411.60" font-size="8.6" textLength="3.51" lengthAdjust="spacingAndGlyphs" fill="#231f20" stroke="#231f20" stroke-width="0.2">6</text>
<line x1="348.10" y1="398.40" x2="348.10" y2="401.40" stroke="#1a1a1a" stroke-width="0.8"/>
<text x="344.30" y="411.60" font-size="8.6" textLength="7.62" lengthAdjust="spacingAndGlyphs" fill="#231f20" stroke="#231f20" stroke-width="0.2">12</text>
<line x1="364.05" y1="398.40" x2="364.05" y2="401.40" stroke="#1a1a1a" stroke-width="0.8"/>
<text x="360.25" y="411.60" font-size="8.6" textLength="7.62" lengthAdjust="spacingAndGlyphs" fill="#231f20" stroke="#231f20" stroke-width="0.2">18</text>
<line x1="380.00" y1="398.40" x2="380.00" y2="401.40" stroke="#1a1a1a" stroke-width="0.8"/>
<text x="376.20" y="411.60" font-size="8.6" textLength="7.62" lengthAdjust="spacingAndGlyphs" fill="#231f20" stroke="#231f20" stroke-width="0.2">24</text>
<line x1="395.95" y1="398.40" x2="395.95" y2="401.40" stroke="#1a1a1a" stroke-width="0.8"/>
<text x="392.15" y="411.60" font-size="8.6" textLength="7.62" lengthAdjust="spacingAndGlyphs" fill="#231f20" stroke="#231f20" stroke-width="0.2">30</text>
<line x1="411.90" y1="398.40" x2="411.90" y2="401.40" stroke="#1a1a1a" stroke-width="0.8"/>
<text x="408.10" y="411.60" font-size="8.6" textLength="7.62" lengthAdjust="spacingAndGlyphs" fill="#231f20" stroke="#231f20" stroke-width="0.2">36</text>
<line x1="427.85" y1="398.40" x2="427.85" y2="401.40" stroke="#1a1a1a" stroke-width="0.8"/>
<text x="424.05" y="411.60" font-size="8.6" textLength="7.62" lengthAdjust="spacingAndGlyphs" fill="#231f20" stroke="#231f20" stroke-width="0.2">42</text>
<line x1="443.80" y1="398.40" x2="443.80" y2="401.40" stroke="#1a1a1a" stroke-width="0.8"/>
<text x="440.00" y="411.60" font-size="8.6" textLength="7.62" lengthAdjust="spacingAndGlyphs" fill="#231f20" stroke="#231f20" stroke-width="0.2">48</text>
<line x1="459.75" y1="398.40" x2="459.75" y2="401.40" stroke="#1a1a1a" stroke-width="0.8"/>
<text x="455.95" y="411.60" font-size="8.6" textLength="7.62" lengthAdjust="spacingAndGlyphs" fill="#231f20" stroke="#231f20" stroke-width="0.2">54</text>
<line x1="475.70" y1="398.40" x2="475.70" y2="401.40" stroke="#1a1a1a" stroke-width="0.8"/>
<text x="471.90" y="411.60" font-size="8.6" textLength="7.62" lengthAdjust="spacingAndGlyphs" fill="#231f20" stroke="#231f20" stroke-width="0.2">60</text>
<line x1="491.65" y1="398.40" x2="491.65" y2="401.40" stroke="#1a1a1a" stroke-width="0.8"/>
<text x="487.85" y="411.60" font-size="8.6" textLength="7.62" lengthAdjust="spacingAndGlyphs" fill="#231f20" stroke="#231f20" stroke-width="0.2">66</text>
<line x1="507.60" y1="398.40" x2="507.60" y2="401.40" stroke="#1a1a1a" stroke-width="0.8"/>
<text x="503.80" y="411.60" font-size="8.6" textLength="7.62" lengthAdjust="spacingAndGlyphs" fill="#231f20" stroke="#231f20" stroke-width="0.2">75</text>
<text x="390.50" y="424.40" font-size="8.6" textLength="46.71" lengthAdjust="spacingAndGlyphs" fill="#231f20" stroke="#231f20" stroke-width="0.2">Time (hours)</text>
<text transform="translate(277.00,359.90) rotate(-90)" x="0" y="0" font-size="10.6" textLength="71.31" lengthAdjust="spacingAndGlyphs" fill="#231f20" stroke="#231f20" stroke-width="0.2">FVIII plasma activity</text>
<text transform="translate(289.70,366.00) rotate(-90)" x="0" y="0" font-size="10.6" textLength="82.98" lengthAdjust="spacingAndGlyphs" fill="#231f20" stroke="#231f20" stroke-width="0.2">normalized to dose (%)</text>
<polyline points="317.30,258.90 337.30,272.80 379.80,289.10 401.20,299.40 438.70,309.20 464.80,314.60 507.90,331.00" fill="none" stroke="#b1173b" stroke-width="1.2" stroke-linejoin="round"/>
<line x1="438.70" y1="306.80" x2="438.70" y2="311.80" stroke="#b1173b" stroke-width="0.9"/>
<line x1="437.40" y1="306.80" x2="440.00" y2="306.80" stroke="#b1173b" stroke-width="0.9"/>
<line x1="437.40" y1="311.80" x2="440.00" y2="311.80" stroke="#b1173b" stroke-width="0.9"/>
<line x1="464.80" y1="312.20" x2="464.80" y2="317.40" stroke="#b1173b" stroke-width="0.9"/>
<line x1="463.50" y1="312.20" x2="466.10" y2="312.20" stroke="#b1173b" stroke-width="0.9"/>
<line x1="463.50" y1="317.40" x2="466.10" y2="317.40" stroke="#b1173b" stroke-width="0.9"/>
<circle cx="317.30" cy="258.90" r="1.75" fill="#fff" stroke="#b1173b" stroke-width="1.0"/>
<circle cx="337.30" cy="272.80" r="1.75" fill="#fff" stroke="#b1173b" stroke-width="1.0"/>
<circle cx="379.80" cy="289.10" r="1.75" fill="#fff" stroke="#b1173b" stroke-width="1.0"/>
<circle cx="401.20" cy="299.40" r="1.75" fill="#fff" stroke="#b1173b" stroke-width="1.0"/>
<circle cx="438.70" cy="309.20" r="1.8" fill="#b1173b" stroke="none" stroke-width="1"/>
<circle cx="464.80" cy="314.60" r="1.8" fill="#b1173b" stroke="none" stroke-width="1"/>
<circle cx="507.90" cy="331.00" r="1.75" fill="#fff" stroke="#b1173b" stroke-width="1.0"/>
<line x1="317.20" y1="273.00" x2="317.20" y2="279.00" stroke="#b1173b" stroke-width="1.0"/>
<line x1="315.70" y1="273.00" x2="318.70" y2="273.00" stroke="#b1173b" stroke-width="1.0"/>
<line x1="315.70" y1="279.00" x2="318.70" y2="279.00" stroke="#b1173b" stroke-width="1.0"/>
<line x1="318.80" y1="289.60" x2="318.80" y2="299.90" stroke="#b1173b" stroke-width="1.0"/>
<line x1="317.30" y1="289.60" x2="320.30" y2="289.60" stroke="#b1173b" stroke-width="1.0"/>
<line x1="317.30" y1="299.90" x2="320.30" y2="299.90" stroke="#b1173b" stroke-width="1.0"/>
<line x1="322.10" y1="297.70" x2="322.10" y2="303.40" stroke="#b1173b" stroke-width="1.0"/>
<line x1="320.60" y1="297.70" x2="323.60" y2="297.70" stroke="#b1173b" stroke-width="1.0"/>
<line x1="320.60" y1="303.40" x2="323.60" y2="303.40" stroke="#b1173b" stroke-width="1.0"/>
<line x1="327.00" y1="317.20" x2="327.00" y2="332.20" stroke="#b1173b" stroke-width="1.0"/>
<line x1="325.50" y1="317.20" x2="328.50" y2="317.20" stroke="#b1173b" stroke-width="1.0"/>
<line x1="325.50" y1="332.20" x2="328.50" y2="332.20" stroke="#b1173b" stroke-width="1.0"/>
<line x1="332.00" y1="333.90" x2="332.00" y2="343.80" stroke="#b1173b" stroke-width="1.0"/>
<line x1="330.50" y1="333.90" x2="333.50" y2="333.90" stroke="#b1173b" stroke-width="1.0"/>
<line x1="330.50" y1="343.80" x2="333.50" y2="343.80" stroke="#b1173b" stroke-width="1.0"/>
<line x1="337.20" y1="342.40" x2="337.20" y2="350.20" stroke="#b1173b" stroke-width="1.0"/>
<line x1="335.70" y1="342.40" x2="338.70" y2="342.40" stroke="#b1173b" stroke-width="1.0"/>
<line x1="335.70" y1="350.20" x2="338.70" y2="350.20" stroke="#b1173b" stroke-width="1.0"/>
<polyline points="317.20,276.00 318.80,294.30 322.10,301.00 327.00,323.30 332.00,338.20 337.20,346.00" fill="none" stroke="#b1173b" stroke-width="1.1" stroke-linejoin="round" stroke-dasharray="3 2"/>
<polygon points="317.20,273.90 319.30,276.00 317.20,278.10 315.10,276.00" fill="#b1173b" stroke="none" stroke-width="1"/>
<polygon points="318.80,292.20 320.90,294.30 318.80,296.40 316.70,294.30" fill="#b1173b" stroke="none" stroke-width="1"/>
<polygon points="322.10,298.90 324.20,301.00 322.10,303.10 320.00,301.00" fill="#b1173b" stroke="none" stroke-width="1"/>
<polygon points="327.00,321.20 329.10,323.30 327.00,325.40 324.90,323.30" fill="#b1173b" stroke="none" stroke-width="1"/>
<polygon points="332.00,336.10 334.10,338.20 332.00,340.30 329.90,338.20" fill="#b1173b" stroke="none" stroke-width="1"/>
<polygon points="337.20,343.90 339.30,346.00 337.20,348.10 335.10,346.00" fill="#b1173b" stroke="none" stroke-width="1"/>
<line x1="317.30" y1="267.00" x2="317.30" y2="271.70" stroke="#23437f" stroke-width="0.9"/>
<line x1="315.90" y1="267.00" x2="318.70" y2="267.00" stroke="#23437f" stroke-width="0.9"/>
<line x1="315.90" y1="271.70" x2="318.70" y2="271.70" stroke="#23437f" stroke-width="0.9"/>
<line x1="337.30" y1="300.40" x2="337.30" y2="309.20" stroke="#23437f" stroke-width="0.9"/>
<line x1="335.90" y1="300.40" x2="338.70" y2="300.40" stroke="#23437f" stroke-width="0.9"/>
<line x1="335.90" y1="309.20" x2="338.70" y2="309.20" stroke="#23437f" stroke-width="0.9"/>
<line x1="379.80" y1="328.50" x2="379.80" y2="340.20" stroke="#23437f" stroke-width="0.9"/>
<line x1="378.40" y1="328.50" x2="381.20" y2="328.50" stroke="#23437f" stroke-width="0.9"/>
<line x1="378.40" y1="340.20" x2="381.20" y2="340.20" stroke="#23437f" stroke-width="0.9"/>
<line x1="444.00" y1="362.00" x2="444.00" y2="369.30" stroke="#23437f" stroke-width="0.9"/>
<line x1="442.60" y1="362.00" x2="445.40" y2="362.00" stroke="#23437f" stroke-width="0.9"/>
<line x1="442.60" y1="369.30" x2="445.40" y2="369.30" stroke="#23437f" stroke-width="0.9"/>
<line x1="444.00" y1="356.80" x2="444.00" y2="360.50" stroke="#23437f" stroke-width="0.9"/>
<line x1="442.60" y1="356.80" x2="445.40" y2="356.80" stroke="#23437f" stroke-width="0.9"/>
<line x1="442.60" y1="360.50" x2="445.40" y2="360.50" stroke="#23437f" stroke-width="0.9"/>
<polyline points="317.40,272.80 337.30,305.70 379.80,336.90 444.00,365.60" fill="none" stroke="#23437f" stroke-width="1.1" stroke-linejoin="round" stroke-dasharray="3 2"/>
<polyline points="317.40,272.80 337.30,304.70 379.80,336.00 444.00,360.50" fill="none" stroke="#23437f" stroke-width="1.2" stroke-linejoin="round"/>
<rect x="315.40" y="267.30" width="3.8" height="3.8" fill="#23437f"/>
<rect x="335.40" y="303.80" width="3.8" height="3.8" fill="#23437f"/>
<rect x="377.90" y="335.00" width="3.8" height="3.8" fill="#23437f"/>
<rect x="442.10" y="363.70" width="3.8" height="3.8" fill="#23437f"/>
<polygon points="317.40,271.20 319.20,274.40 315.60,274.40" fill="#23437f" stroke="none" stroke-width="1" stroke-linejoin="miter"/>
<polygon points="337.30,303.10 339.10,306.30 335.50,306.30" fill="#23437f" stroke="none" stroke-width="1" stroke-linejoin="miter"/>
<polygon points="379.80,334.40 381.60,337.60 378.00,337.60" fill="#23437f" stroke="none" stroke-width="1" stroke-linejoin="miter"/>
<polygon points="444.00,358.90 445.80,362.10 442.20,362.10" fill="#23437f" stroke="none" stroke-width="1" stroke-linejoin="miter"/>
<line x1="335.30" y1="434.50" x2="353.90" y2="434.50" stroke="#b1173b" stroke-width="1.1" stroke-dasharray="2.6 1.9"/>
<polygon points="344.60,432.80 346.30,434.50 344.60,436.20 342.90,434.50" fill="#b1173b" stroke="none" stroke-width="1"/>
<line x1="335.30" y1="449.35" x2="353.90" y2="449.35" stroke="#b1173b" stroke-width="1.05"/>
<circle cx="344.60" cy="449.35" r="2.0" fill="#b1173b" stroke="none" stroke-width="1"/>
<line x1="335.30" y1="464.20" x2="353.90" y2="464.20" stroke="#23437f" stroke-width="1.1" stroke-dasharray="2.6 1.9"/>
<rect x="342.65" y="462.25" width="3.9" height="3.9" fill="#23437f"/>
<line x1="335.30" y1="479.05" x2="353.90" y2="479.05" stroke="#23437f" stroke-width="1.05"/>
<polygon points="344.60,477.25 346.30,480.25 342.90,480.25" fill="#23437f" stroke="none" stroke-width="1" stroke-linejoin="miter"/>
<text x="357.30" y="437.10" font-size="8.7" textLength="56.39" lengthAdjust="spacingAndGlyphs" fill="#231f20" stroke="#231f20" stroke-width="0.2">DKO, rFVIIIFc t</text>
<text x="414.10" y="439.00" font-size="7.2" textLength="11.90" lengthAdjust="spacingAndGlyphs" fill="#231f20" stroke="#231f20" stroke-width="0.2">1/2</text>
<text x="426.70" y="437.10" font-size="8.7" textLength="26.01" lengthAdjust="spacingAndGlyphs" fill="#231f20" stroke="#231f20" stroke-width="0.2">= 1.6 h</text>
<text x="357.30" y="452.00" font-size="8.7" textLength="63.20" lengthAdjust="spacingAndGlyphs" fill="#231f20" stroke="#231f20" stroke-width="0.2">HemA, rFVIIIFc t</text>
<text x="420.90" y="453.90" font-size="7.2" textLength="10.60" lengthAdjust="spacingAndGlyphs" fill="#231f20" stroke="#231f20" stroke-width="0.2">1/2</text>
<text x="432.00" y="452.00" font-size="8.7" textLength="38.01" lengthAdjust="spacingAndGlyphs" fill="#231f20" stroke="#231f20" stroke-width="0.2">= 16–18 h</text>
<text x="357.30" y="466.90" font-size="8.7" textLength="73.71" lengthAdjust="spacingAndGlyphs" fill="#231f20" stroke="#231f20" stroke-width="0.2">DKO, Construct 1 t</text>
<text x="431.50" y="468.80" font-size="7.2" textLength="10.30" lengthAdjust="spacingAndGlyphs" fill="#231f20" stroke="#231f20" stroke-width="0.2">1/2</text>
<text x="442.60" y="466.90" font-size="8.7" textLength="18.72" lengthAdjust="spacingAndGlyphs" fill="#231f20" stroke="#231f20" stroke-width="0.2">= 9 h</text>
<text x="357.30" y="481.80" font-size="8.7" textLength="79.28" lengthAdjust="spacingAndGlyphs" fill="#231f20" stroke="#231f20" stroke-width="0.2">HemA, Construct 1 t</text>
<text x="437.00" y="483.70" font-size="7.2" textLength="9.70" lengthAdjust="spacingAndGlyphs" fill="#231f20" stroke="#231f20" stroke-width="0.2">1/2</text>
<text x="449.60" y="481.80" font-size="8.7" textLength="41.79" lengthAdjust="spacingAndGlyphs" fill="#231f20" stroke="#231f20" stroke-width="0.2">= 10 hours</text></svg>
</body></html>
